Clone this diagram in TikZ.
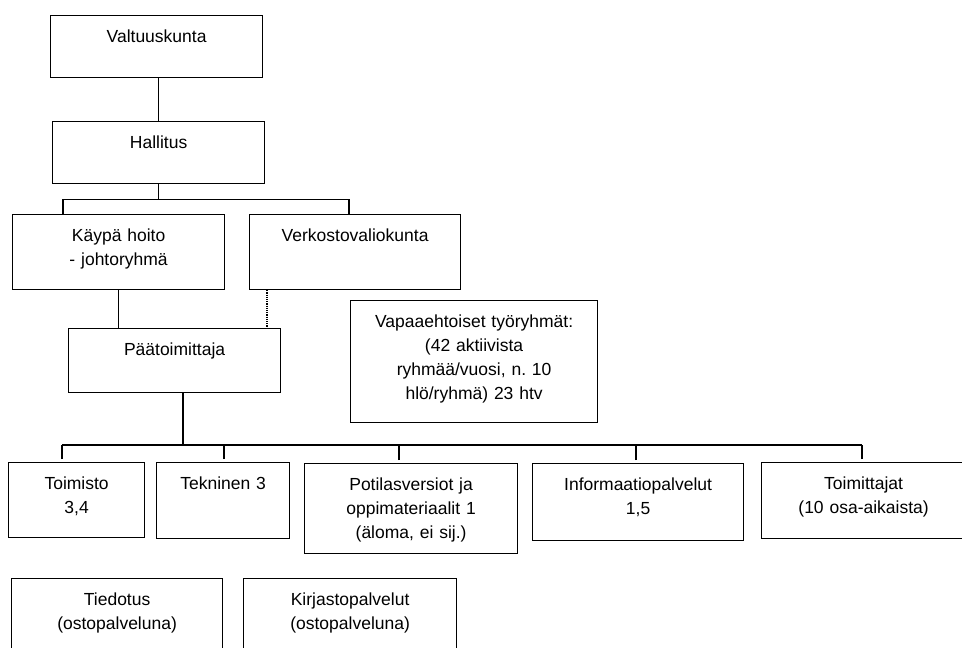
\documentclass[tikz,border=0pt]{standalone}
\usepackage{fontspec}
\setmainfont{Liberation Sans}
\usepackage{tikz}
\usetikzlibrary{positioning}
\frenchspacing

\begin{document}
\begin{tikzpicture}[
    x=1pt, y=-1pt,
    font=\fontsize{17.5}{24}\selectfont,
    orgbox/.style 2 args={
      rectangle, draw=black, line width=1.2pt, anchor=north west,
      inner xsep=0pt, inner ysep=0pt, align=center,
      text width=#1, text height=26.5pt, text depth=#2
    },
    link/.style={line width=1.2pt}
  ]
    \useasboundingbox (0,0) rectangle (962,648);
    \clip (0,0) rectangle (962,648);

    \node[orgbox={212pt}{35.5pt}] (valtuusto) at (50,15) {Valtuuskunta};
    \node[orgbox={212pt}{35.5pt}] (hallitus) at (52,121) {Hallitus};
    \node[orgbox={212pt}{48.5pt}] (johto) at (12,214) {Käypä hoito\\- johtoryhmä};
    \node[orgbox={211pt}{48.5pt}] (verkosto) at (249,214) {Verkostovaliokunta};
    \node[orgbox={212pt}{37.5pt}] (paatoim) at (68,328) {Päätoimittaja};
    \node[orgbox={247pt}{95.5pt}] (vapaa) at (350,300)
      {Vapaaehtoiset työryhmät:\\(42 aktiivista\\ryhmää/vuosi, n. 10\\hlö/ryhmä) 23 htv};

    \node[orgbox={136pt}{48.5pt}] (toimisto) at (8,462) {Toimisto\\3,4};
    \node[orgbox={133pt}{49.5pt}] (tekninen) at (156,462) {Tekninen 3};
    \node[orgbox={213pt}{63.5pt}] (potilas) at (304,463)
      {Potilasversiot ja\\oppimateriaalit 1\\(äloma, ei sij.)};
    \node[orgbox={211pt}{50.5pt}] (info) at (532,463) {Informaatiopalvelut\\1,5};
    \node[orgbox={204pt}{49.5pt}] (toimittajat) at (761,462) {Toimittajat\\(10 osa-aikaista)};

    \node[orgbox={211pt}{63.5pt}] (tiedotus) at (11,578) {Tiedotus\\(ostopalveluna)};
    \node[orgbox={213pt}{63.5pt}] (kirjasto) at (243,578) {Kirjastopalvelut\\(ostopalveluna)};

    % upper branch
    \coordinate (busA) at (63,199.5);
    \coordinate (busB) at (349,199.5);
    \draw[link] (hallitus.north) -- (hallitus.north |- valtuusto.south);
    \draw[link] (hallitus.south) -- (hallitus.south |- busA);
    \draw[link] (johto.north -| busA) -- (busA) -- (busB) -- (verkosto.north -| busB);
    \draw[link] (johto.south) -- (johto.south |- paatoim.north);
    \draw[link, densely dotted] (verkosto.south -| 267,0) -- (paatoim.north -| 267,0);

    % lower branch
    \coordinate (busP) at (183,445);
    \coordinate (busC) at (62,445);
    \coordinate (busD) at (862,445);
    \draw[link] (paatoim.south -| busP) -- (busP);
    \draw[link] (busC) -- (busD);
    \foreach \n/\x in {toimisto/62, tekninen/224, potilas/399, info/636, toimittajat/862}
      \draw[link] (\n.north -| \x,445) ++(0,-3) -- (\x,445);
  \end{tikzpicture}
\end{document}
